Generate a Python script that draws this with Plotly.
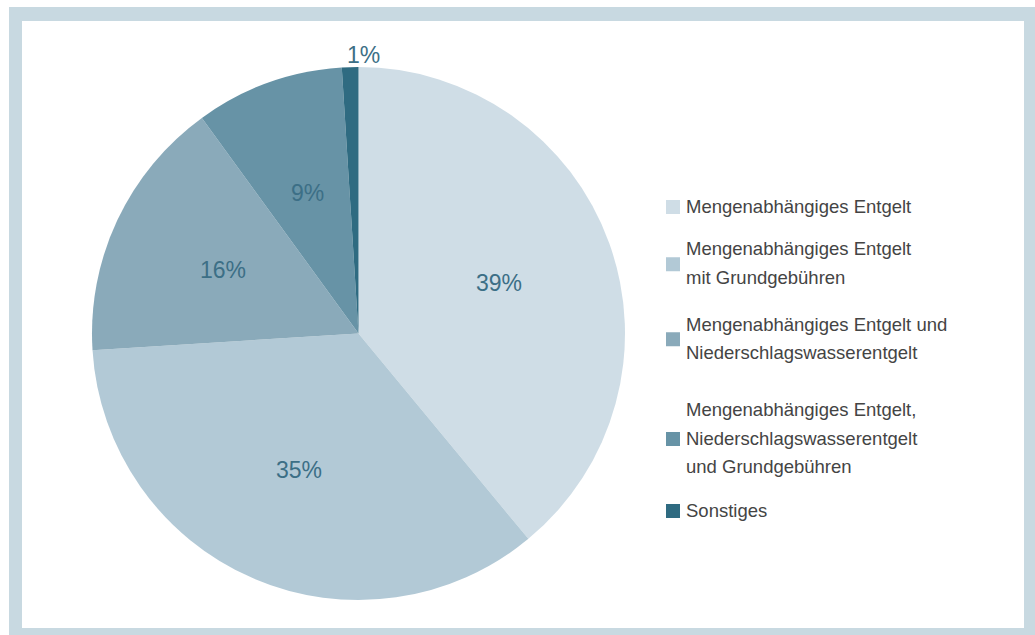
import math
import plotly.graph_objects as go

# Anteile der Entgeltmodelle (Prozent)
categories = [
    "Mengenabhängiges Entgelt",
    "Mengenabhängiges Entgelt<br>mit Grundgebühren",
    "Mengenabhängiges Entgelt und<br>Niederschlagswasserentgelt",
    "Mengenabhängiges Entgelt,<br>Niederschlagswasserentgelt<br>und Grundgebühren",
    "Sonstiges",
]
shares = [39, 35, 16, 9, 1]
slice_colors = ["#cfdde6", "#b2c9d6", "#8aaaba", "#6793a6", "#2f6b81"]
label_outside = [False, False, False, False, True]

W, H = 1035, 635
FRAME = "#c8d9e1"
LABEL_COLOR = "#3c6f86"
LEGEND_TEXT = "#444444"
FONT = "Liberation Sans, Arial, sans-serif"

# pie geometry in pixels
cx, cy, R = 358.5, 333.5, 266.5


def px(x):
    return x / W


def py(y):
    return 1 - y / H


fig = go.Figure(
    go.Pie(
        labels=[c.replace("<br>", " ") for c in categories],
        values=shares,
        sort=False,
        direction="clockwise",
        rotation=0,
        marker=dict(colors=slice_colors, line=dict(width=0)),
        textinfo="none",
        hoverinfo="label+percent",
        domain=dict(x=[px(cx - R), px(cx + R)], y=[py(cy + R), py(cy - R)]),
        showlegend=False,
    )
)

annotations = []

# percentage labels at each slice's mid-angle (clockwise from 12 o'clock)
total = sum(shares)
start = 0.0
for value, outside in zip(shares, label_outside):
    sweep = 360.0 * value / total
    mid = math.radians(start + sweep / 2)
    start += sweep
    if outside:
        r = R + 12
        ax = dict(xanchor="left", xshift=-5)
    else:
        r = 0.56 * R
        ax = dict(xanchor="center")
    lx = cx + r * math.sin(mid)
    ly = cy - r * math.cos(mid)
    annotations.append(dict(xref="paper", yref="paper", x=px(lx), y=py(ly),
                            yanchor="middle", showarrow=False,
                            text=f"{value}%",
                            font=dict(family=FONT, size=23, color=LABEL_COLOR),
                            **ax))

# outer frame
shapes = [
    dict(type="rect", xref="paper", yref="paper", layer="below",
         x0=px(9), x1=px(1035), y0=py(635), y1=py(7),
         fillcolor=FRAME, line=dict(width=0)),
    dict(type="rect", xref="paper", yref="paper", layer="below",
         x0=px(22), x1=px(1024), y0=py(628), y1=py(21),
         fillcolor="white", line=dict(width=0)),
]

# legend drawn as swatches plus text lines
entry_first_line = [206, 249, 324, 409.5, 510]
line_step = 28.5
swatch = 14
sx, tx = 666, 684
for name, color, y0 in zip(categories, slice_colors, entry_first_line):
    lines = name.split("<br>")
    ys = [y0 + i * line_step for i in range(len(lines))]
    ymid = sum(ys) / len(ys) + 1
    shapes.append(dict(type="rect", xref="paper", yref="paper",
                       x0=px(sx), x1=px(sx + swatch),
                       y0=py(ymid + swatch / 2), y1=py(ymid - swatch / 2),
                       fillcolor=color, line=dict(width=0)))
    for text, y in zip(lines, ys):
        annotations.append(dict(xref="paper", yref="paper", x=px(tx), y=py(y),
                                xanchor="left", yanchor="middle", showarrow=False,
                                text=text,
                                font=dict(family=FONT, size=18.5, color=LEGEND_TEXT)))

fig.update_layout(
    width=W, height=H,
    margin=dict(l=0, r=0, t=0, b=0),
    paper_bgcolor="white",
    plot_bgcolor="white",
    shapes=shapes,
    annotations=annotations,
)

fig.write_html("out.html")
